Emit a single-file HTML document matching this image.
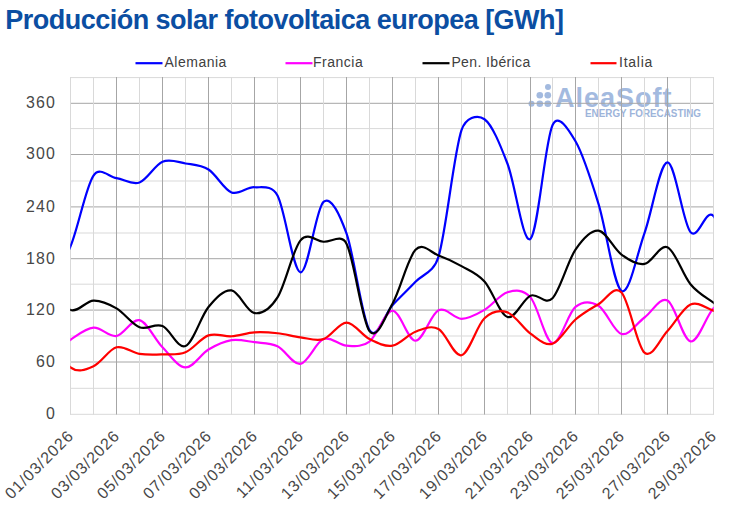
<!DOCTYPE html>
<html><head><meta charset="utf-8"><style>
html,body{margin:0;padding:0;background:#fff;width:730px;height:509px;overflow:hidden;}
svg{display:block;font-family:"Liberation Sans",sans-serif;}
</style></head><body>
<svg width="730" height="509" viewBox="0 0 730 509">
<g fill="#a3badf">
<circle cx="531.5" cy="103.8" r="3.0"/>
<circle cx="539.8" cy="103.8" r="3.3"/>
<circle cx="547.8" cy="103.8" r="3.3"/>
<circle cx="539.8" cy="95.3" r="3.3"/>
<circle cx="547.8" cy="95.3" r="3.3"/>
<circle cx="548.0" cy="87.0" r="3.0"/>
</g>
<text x="555" y="106.6" font-family="Liberation Sans" font-weight="bold" font-size="27" letter-spacing="1" fill="#a3badf">AleaSoft</text>
<text x="585" y="117.3" font-family="Liberation Sans" font-weight="bold" font-size="10.6" textLength="116" lengthAdjust="spacingAndGlyphs" fill="#9db4da">ENERGY FORECASTING</text>
<line x1="70.0" y1="414.3" x2="714.0" y2="414.3" stroke="#d9d9d9" stroke-width="1"/>
<line x1="70.0" y1="388.3" x2="714.0" y2="388.3" stroke="#d9d9d9" stroke-width="1"/>
<line x1="70.0" y1="362.0" x2="714.0" y2="362.0" stroke="#a6a6a6" stroke-width="1"/>
<line x1="70.0" y1="336.0" x2="714.0" y2="336.0" stroke="#d9d9d9" stroke-width="1"/>
<line x1="70.0" y1="310.1" x2="714.0" y2="310.1" stroke="#a6a6a6" stroke-width="1"/>
<line x1="70.0" y1="284.2" x2="714.0" y2="284.2" stroke="#d9d9d9" stroke-width="1"/>
<line x1="70.0" y1="258.7" x2="714.0" y2="258.7" stroke="#a6a6a6" stroke-width="1"/>
<line x1="70.0" y1="233.0" x2="714.0" y2="233.0" stroke="#d9d9d9" stroke-width="1"/>
<line x1="70.0" y1="206.9" x2="714.0" y2="206.9" stroke="#a6a6a6" stroke-width="1"/>
<line x1="70.0" y1="181.0" x2="714.0" y2="181.0" stroke="#d9d9d9" stroke-width="1"/>
<line x1="70.0" y1="154.5" x2="714.0" y2="154.5" stroke="#a6a6a6" stroke-width="1"/>
<line x1="70.0" y1="128.6" x2="714.0" y2="128.6" stroke="#d9d9d9" stroke-width="1"/>
<line x1="70.0" y1="103.3" x2="714.0" y2="103.3" stroke="#a6a6a6" stroke-width="1"/>
<line x1="70.0" y1="77.6" x2="714.0" y2="77.6" stroke="#d9d9d9" stroke-width="1"/>
<line x1="70.5" y1="77.0" x2="70.5" y2="414.5" stroke="#d9d9d9" stroke-width="1"/>
<line x1="93.5" y1="77.0" x2="93.5" y2="414.5" stroke="#d9d9d9" stroke-width="1"/>
<line x1="116.5" y1="77.0" x2="116.5" y2="414.5" stroke="#a6a6a6" stroke-width="1"/>
<line x1="139.5" y1="77.0" x2="139.5" y2="414.5" stroke="#d9d9d9" stroke-width="1"/>
<line x1="162.5" y1="77.0" x2="162.5" y2="414.5" stroke="#a6a6a6" stroke-width="1"/>
<line x1="185.5" y1="77.0" x2="185.5" y2="414.5" stroke="#d9d9d9" stroke-width="1"/>
<line x1="208.5" y1="77.0" x2="208.5" y2="414.5" stroke="#a6a6a6" stroke-width="1"/>
<line x1="231.5" y1="77.0" x2="231.5" y2="414.5" stroke="#d9d9d9" stroke-width="1"/>
<line x1="254.5" y1="77.0" x2="254.5" y2="414.5" stroke="#a6a6a6" stroke-width="1"/>
<line x1="277.5" y1="77.0" x2="277.5" y2="414.5" stroke="#d9d9d9" stroke-width="1"/>
<line x1="300.5" y1="77.0" x2="300.5" y2="414.5" stroke="#a6a6a6" stroke-width="1"/>
<line x1="323.5" y1="77.0" x2="323.5" y2="414.5" stroke="#d9d9d9" stroke-width="1"/>
<line x1="346.5" y1="77.0" x2="346.5" y2="414.5" stroke="#a6a6a6" stroke-width="1"/>
<line x1="369.5" y1="77.0" x2="369.5" y2="414.5" stroke="#d9d9d9" stroke-width="1"/>
<line x1="392.5" y1="77.0" x2="392.5" y2="414.5" stroke="#a6a6a6" stroke-width="1"/>
<line x1="415.5" y1="77.0" x2="415.5" y2="414.5" stroke="#d9d9d9" stroke-width="1"/>
<line x1="438.5" y1="77.0" x2="438.5" y2="414.5" stroke="#a6a6a6" stroke-width="1"/>
<line x1="461.5" y1="77.0" x2="461.5" y2="414.5" stroke="#d9d9d9" stroke-width="1"/>
<line x1="484.5" y1="77.0" x2="484.5" y2="414.5" stroke="#a6a6a6" stroke-width="1"/>
<line x1="507.5" y1="77.0" x2="507.5" y2="414.5" stroke="#d9d9d9" stroke-width="1"/>
<line x1="530.5" y1="77.0" x2="530.5" y2="414.5" stroke="#a6a6a6" stroke-width="1"/>
<line x1="552.5" y1="77.0" x2="552.5" y2="414.5" stroke="#d9d9d9" stroke-width="1"/>
<line x1="575.5" y1="77.0" x2="575.5" y2="414.5" stroke="#a6a6a6" stroke-width="1"/>
<line x1="598.5" y1="77.0" x2="598.5" y2="414.5" stroke="#d9d9d9" stroke-width="1"/>
<line x1="621.5" y1="77.0" x2="621.5" y2="414.5" stroke="#a6a6a6" stroke-width="1"/>
<line x1="644.5" y1="77.0" x2="644.5" y2="414.5" stroke="#d9d9d9" stroke-width="1"/>
<line x1="667.5" y1="77.0" x2="667.5" y2="414.5" stroke="#a6a6a6" stroke-width="1"/>
<line x1="690.5" y1="77.0" x2="690.5" y2="414.5" stroke="#d9d9d9" stroke-width="1"/>
<line x1="713.5" y1="77.0" x2="713.5" y2="414.5" stroke="#d9d9d9" stroke-width="1"/>
<clipPath id="pa"><rect x="70.2" y="0" width="643.5" height="509"/></clipPath><g clip-path="url(#pa)">
<path d="M47.50 284.42 C51.33 278.08 62.83 264.55 70.50 246.41 C78.17 228.26 85.83 186.94 93.50 175.57 C99.97 165.97 108.83 177.01 116.50 178.16 C124.17 179.31 131.83 185.21 139.50 182.48 C147.17 179.74 154.83 164.91 162.50 161.74 C170.17 158.58 177.83 162.18 185.50 163.47 C193.17 164.77 200.83 164.70 208.50 169.52 C216.17 174.34 223.83 189.46 231.50 192.41 C239.17 195.36 246.83 186.73 254.50 187.23 C262.17 187.73 271.69 184.69 277.50 195.44 C285.17 209.62 292.83 271.26 300.50 272.32 C308.17 273.39 315.83 208.31 323.50 201.83 C331.17 195.35 339.91 215.04 346.50 233.45 C354.17 254.84 361.83 318.25 369.50 330.20 C377.17 342.15 384.83 313.21 392.50 305.15 C400.17 297.09 407.83 289.89 415.50 281.82 C423.17 273.76 433.56 273.04 438.50 256.77 C446.17 231.50 453.83 153.13 461.50 130.21 C465.54 118.13 476.83 113.65 484.50 119.24 C492.17 124.83 499.83 143.80 507.50 163.73 C515.17 183.66 523.00 245.22 530.50 238.80 C538.00 232.38 545.00 141.46 552.50 125.20 C558.38 112.46 568.42 129.16 575.50 141.27 C583.17 154.37 590.83 178.88 598.50 203.82 C606.17 228.75 613.83 286.03 621.50 290.90 C629.17 295.76 636.83 254.43 644.50 233.02 C652.17 211.61 659.83 162.58 667.50 162.44 C675.17 162.29 682.83 223.22 690.50 232.15 C698.17 241.08 705.83 207.29 713.50 216.00 C721.17 224.71 732.67 273.01 736.50 284.42" fill="none" stroke="#0000ff" stroke-width="2.2" stroke-linejoin="round"/>
<path d="M47.50 357.85 C51.33 354.84 62.83 344.82 70.50 339.79 C78.17 334.77 85.83 328.33 93.50 327.70 C101.17 327.06 108.83 337.24 116.50 335.99 C124.17 334.74 131.83 318.30 139.50 320.18 C147.17 322.07 154.83 339.43 162.50 347.31 C170.17 355.18 177.83 367.06 185.50 367.44 C193.17 367.81 200.83 354.10 208.50 349.55 C216.17 345.00 223.83 341.36 231.50 340.14 C239.17 338.91 246.83 341.20 254.50 342.21 C262.17 343.22 269.83 342.59 277.50 346.18 C285.17 349.78 292.83 364.99 300.50 363.81 C308.17 362.63 315.83 342.12 323.50 339.10 C331.17 336.08 338.83 345.26 346.50 345.67 C354.17 346.07 361.83 347.34 369.50 341.52 C377.17 335.70 384.83 310.89 392.50 310.77 C400.17 310.64 407.83 340.83 415.50 340.74 C423.17 340.66 430.83 313.90 438.50 310.25 C446.17 306.59 453.83 318.86 461.50 318.80 C469.17 318.74 476.83 314.34 484.50 309.90 C492.17 305.47 499.83 294.28 507.50 292.19 C515.17 290.10 523.00 288.89 530.50 297.38 C538.00 305.86 545.00 341.48 552.50 343.07 C560.00 344.67 567.83 313.18 575.50 306.96 C583.17 300.74 590.83 301.25 598.50 305.75 C606.17 310.26 613.83 332.05 621.50 334.00 C629.17 335.96 636.83 323.10 644.50 317.50 C652.17 311.90 659.83 296.41 667.50 300.40 C675.17 304.39 682.83 340.14 690.50 341.43 C698.17 342.73 705.83 316.24 713.50 308.17 C721.17 300.11 732.67 295.58 736.50 293.06" fill="none" stroke="#ff00ff" stroke-width="2.2" stroke-linejoin="round"/>
<path d="M47.50 284.42 C51.33 288.68 62.83 307.30 70.50 309.99 C78.17 312.68 85.83 300.84 93.50 300.57 C101.17 300.30 108.83 303.91 116.50 308.35 C124.17 312.78 131.83 324.23 139.50 327.18 C147.17 330.13 154.83 322.90 162.50 326.06 C170.17 329.21 177.83 349.27 185.50 346.10 C193.17 342.93 200.83 316.32 208.50 307.05 C216.17 297.78 223.83 289.46 231.50 290.46 C239.17 291.47 246.83 311.95 254.50 313.10 C262.17 314.25 270.05 309.15 277.50 297.38 C285.17 285.25 292.83 249.63 300.50 240.36 C307.84 231.48 315.83 241.19 323.50 241.74 C331.17 242.29 341.22 233.38 346.50 243.64 C354.17 258.53 361.83 321.06 369.50 331.07 C377.17 341.07 384.83 317.22 392.50 303.68 C400.17 290.15 407.83 257.90 415.50 249.86 C423.17 241.83 430.83 252.77 438.50 255.48 C446.17 258.18 453.83 261.78 461.50 266.10 C469.17 270.42 476.83 272.91 484.50 281.39 C492.17 289.87 499.83 314.61 507.50 316.99 C515.17 319.36 523.00 298.77 530.50 295.65 C538.00 292.52 545.00 305.91 552.50 298.24 C560.00 290.56 567.83 260.86 575.50 249.60 C583.17 238.34 590.83 229.85 598.50 230.68 C606.17 231.52 613.83 249.07 621.50 254.61 C629.17 260.16 636.83 265.17 644.50 263.94 C652.17 262.72 659.83 243.89 667.50 247.27 C675.17 250.65 682.83 275.00 690.50 284.24 C698.17 293.49 705.83 297.23 713.50 302.73 C721.17 308.23 732.67 314.83 736.50 317.24" fill="none" stroke="#000000" stroke-width="2.2" stroke-linejoin="round"/>
<path d="M47.50 331.93 C51.33 337.85 62.83 361.72 70.50 367.44 C78.17 373.15 85.83 369.58 93.50 366.23 C101.17 362.87 108.83 349.37 116.50 347.31 C124.17 345.25 131.83 352.69 139.50 353.87 C147.17 355.05 154.83 354.67 162.50 354.39 C170.17 354.12 177.83 355.40 185.50 352.23 C193.17 349.06 200.83 338.05 208.50 335.39 C216.17 332.72 223.83 336.75 231.50 336.25 C239.17 335.75 246.83 332.87 254.50 332.36 C262.17 331.86 269.83 332.41 277.50 333.23 C285.17 334.05 292.83 336.31 300.50 337.29 C308.17 338.27 315.83 341.55 323.50 339.10 C331.17 336.65 338.83 322.60 346.50 322.60 C354.17 322.60 361.83 335.26 369.50 339.10 C377.17 342.95 384.83 346.90 392.50 345.67 C400.17 344.43 407.83 334.46 415.50 331.67 C423.17 328.88 430.83 324.98 438.50 328.91 C446.17 332.84 453.83 357.03 461.50 355.26 C469.17 353.48 476.83 325.42 484.50 318.28 C492.17 311.14 499.83 309.84 507.50 312.41 C515.17 314.97 523.00 328.43 530.50 333.66 C538.00 338.88 545.00 346.13 552.50 343.77 C560.00 341.40 567.83 326.08 575.50 319.49 C583.17 312.90 590.83 308.71 598.50 304.20 C606.17 299.69 613.83 284.37 621.50 292.45 C629.17 300.53 636.83 346.23 644.50 352.66 C652.17 359.10 659.83 339.09 667.50 331.07 C675.17 323.05 682.83 307.96 690.50 304.55 C698.17 301.13 705.83 308.19 713.50 310.59 C721.17 313.00 732.67 317.58 736.50 318.97" fill="none" stroke="#ff0000" stroke-width="2.2" stroke-linejoin="round"/>
</g>
<text x="55.9" y="419.2" text-anchor="end" font-family="Liberation Sans" font-size="15.9" letter-spacing="1.1" fill="#474747">0</text>
<text x="55.9" y="366.9" text-anchor="end" font-family="Liberation Sans" font-size="15.9" letter-spacing="1.1" fill="#474747">60</text>
<text x="55.9" y="315.0" text-anchor="end" font-family="Liberation Sans" font-size="15.9" letter-spacing="1.1" fill="#474747">120</text>
<text x="55.9" y="263.6" text-anchor="end" font-family="Liberation Sans" font-size="15.9" letter-spacing="1.1" fill="#474747">180</text>
<text x="55.9" y="211.8" text-anchor="end" font-family="Liberation Sans" font-size="15.9" letter-spacing="1.1" fill="#474747">240</text>
<text x="55.9" y="159.4" text-anchor="end" font-family="Liberation Sans" font-size="15.9" letter-spacing="1.1" fill="#474747">300</text>
<text x="55.9" y="108.2" text-anchor="end" font-family="Liberation Sans" font-size="15.9" letter-spacing="1.1" fill="#474747">360</text>
<text transform="translate(74.60 436.90) rotate(-45)" text-anchor="end" font-family="Liberation Sans" font-size="16" letter-spacing="0.9" fill="#474747">01/03/2026</text>
<text transform="translate(120.60 436.90) rotate(-45)" text-anchor="end" font-family="Liberation Sans" font-size="16" letter-spacing="0.9" fill="#474747">03/03/2026</text>
<text transform="translate(166.60 436.90) rotate(-45)" text-anchor="end" font-family="Liberation Sans" font-size="16" letter-spacing="0.9" fill="#474747">05/03/2026</text>
<text transform="translate(212.60 436.90) rotate(-45)" text-anchor="end" font-family="Liberation Sans" font-size="16" letter-spacing="0.9" fill="#474747">07/03/2026</text>
<text transform="translate(258.60 436.90) rotate(-45)" text-anchor="end" font-family="Liberation Sans" font-size="16" letter-spacing="0.9" fill="#474747">09/03/2026</text>
<text transform="translate(304.60 436.90) rotate(-45)" text-anchor="end" font-family="Liberation Sans" font-size="16" letter-spacing="0.9" fill="#474747">11/03/2026</text>
<text transform="translate(350.60 436.90) rotate(-45)" text-anchor="end" font-family="Liberation Sans" font-size="16" letter-spacing="0.9" fill="#474747">13/03/2026</text>
<text transform="translate(396.60 436.90) rotate(-45)" text-anchor="end" font-family="Liberation Sans" font-size="16" letter-spacing="0.9" fill="#474747">15/03/2026</text>
<text transform="translate(442.60 436.90) rotate(-45)" text-anchor="end" font-family="Liberation Sans" font-size="16" letter-spacing="0.9" fill="#474747">17/03/2026</text>
<text transform="translate(488.60 436.90) rotate(-45)" text-anchor="end" font-family="Liberation Sans" font-size="16" letter-spacing="0.9" fill="#474747">19/03/2026</text>
<text transform="translate(534.60 436.90) rotate(-45)" text-anchor="end" font-family="Liberation Sans" font-size="16" letter-spacing="0.9" fill="#474747">21/03/2026</text>
<text transform="translate(579.60 436.90) rotate(-45)" text-anchor="end" font-family="Liberation Sans" font-size="16" letter-spacing="0.9" fill="#474747">23/03/2026</text>
<text transform="translate(625.60 436.90) rotate(-45)" text-anchor="end" font-family="Liberation Sans" font-size="16" letter-spacing="0.9" fill="#474747">25/03/2026</text>
<text transform="translate(671.60 436.90) rotate(-45)" text-anchor="end" font-family="Liberation Sans" font-size="16" letter-spacing="0.9" fill="#474747">27/03/2026</text>
<text transform="translate(717.60 436.90) rotate(-45)" text-anchor="end" font-family="Liberation Sans" font-size="16" letter-spacing="0.9" fill="#474747">29/03/2026</text>
<line x1="135.5" y1="63.2" x2="162.5" y2="63.2" stroke="#0000ff" stroke-width="2.2"/>
<text x="164.5" y="67.2" font-family="Liberation Sans" font-size="14" letter-spacing="0.5" fill="#404040">Alemania</text>
<line x1="285.5" y1="63.2" x2="312.5" y2="63.2" stroke="#ff00ff" stroke-width="2.2"/>
<text x="313.0" y="67.2" font-family="Liberation Sans" font-size="14" letter-spacing="0.5" fill="#404040">Francia</text>
<line x1="422.5" y1="63.2" x2="449.5" y2="63.2" stroke="#000000" stroke-width="2.2"/>
<text x="451.4" y="67.2" font-family="Liberation Sans" font-size="14" letter-spacing="0.38" fill="#404040">Pen. Ibérica</text>
<line x1="590.5" y1="63.2" x2="616.5" y2="63.2" stroke="#ff0000" stroke-width="2.2"/>
<text x="619.0" y="67.2" font-family="Liberation Sans" font-size="14" letter-spacing="0.75" fill="#404040">Italia</text>
<text x="5.3" y="29" font-family="Liberation Sans" font-weight="bold" font-size="27" letter-spacing="-0.52" fill="#0b4ea2">Producción solar fotovoltaica europea [GWh]</text>
</svg>
</body></html>
